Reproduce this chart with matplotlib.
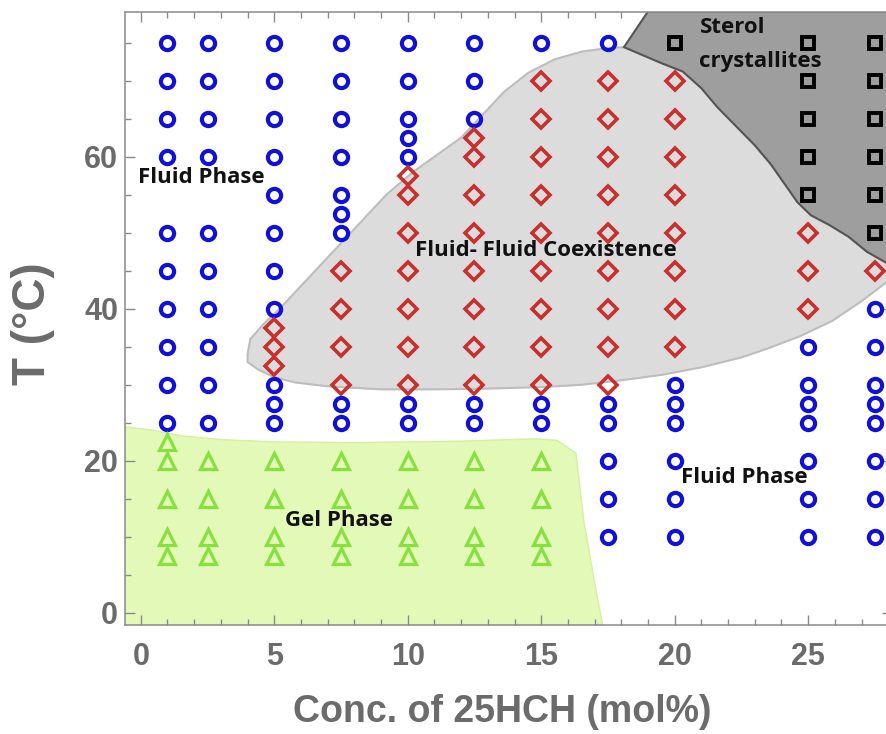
import numpy as np
import matplotlib
matplotlib.use('Agg')
import matplotlib.pyplot as plt
from matplotlib.ticker import MultipleLocator

# concentration columns (mol% 25HCH)
conc = [1, 2.5, 5, 7.5, 10, 12.5, 15, 17.5, 20, 25, 27.5]

# temperatures (C) per column for each phase
fluid_T = [
    [75, 70, 65, 60, 50, 45, 40, 35, 30, 25],
    [75, 70, 65, 60, 50, 45, 40, 35, 30, 25],
    [75, 70, 65, 60, 55, 50, 45, 40, 30, 27.5, 25],
    [75, 70, 65, 60, 55, 52.5, 50, 27.5, 25],
    [75, 70, 65, 62.5, 60, 27.5, 25],
    [75, 70, 65, 27.5, 25],
    [75, 27.5, 25],
    [75, 27.5, 25, 20, 15, 10],
    [30, 27.5, 25, 20, 15, 10],
    [35, 30, 27.5, 25, 20, 15, 10],
    [40, 35, 30, 27.5, 25, 20, 15, 10],
]
coex_T = [
    [],
    [],
    [37.5, 35, 32.5],
    [45, 40, 35, 30],
    [57.5, 55, 50, 45, 40, 35, 30],
    [62.5, 60, 55, 50, 45, 40, 35, 30],
    [70, 65, 60, 55, 50, 45, 40, 35, 30],
    [70, 65, 60, 55, 50, 45, 40, 35, 30],
    [70, 65, 60, 55, 50, 45, 40, 35],
    [50, 45, 40],
    [45],
]
gel_T = [
    [22.5, 20, 15, 10, 7.5],
    [20, 15, 10, 7.5],
    [20, 15, 10, 7.5],
    [20, 15, 10, 7.5],
    [20, 15, 10, 7.5],
    [20, 15, 10, 7.5],
    [20, 15, 10, 7.5],
    [], [], [], [],
]
sterol_T = [
    [], [], [], [], [], [], [], [],
    [75],
    [75, 70, 65, 60, 55],
    [75, 70, 65, 60, 55, 50],
]

# phase region outlines
gel_x = [-0.6, 0.5, 1.5, 3.0, 5.0, 8.0, 12.0, 14.8, 15.6, 16.3, 16.6, 17.0, 17.3, -0.6]
gel_y = [24.5, 24.0, 23.3, 22.8, 22.5, 22.4, 22.6, 22.9, 22.7, 21.0, 12.0, 4.0, -1.6, -1.6]

coex_x = [4.0, 4.1, 4.6, 5.2, 6.0, 6.8, 7.6, 8.4, 9.2, 10.2, 11.2, 12.0, 12.8, 13.6,
          14.5, 15.5, 16.5, 17.5, 18.1,
          19.5, 20.3, 21.0, 21.6, 22.3, 23.0, 23.6, 24.1, 24.6, 25.1, 25.8, 26.5, 27.2, 28.2,
          28.2, 27.9, 27.0, 25.9, 24.7, 23.5, 22.5, 21.0, 19.5, 18.0, 16.5, 15.0, 13.0,
          11.0, 9.0, 7.0, 5.8, 5.0, 4.4, 4.0]
coex_y = [34.0, 36.0, 38.0, 40.0, 43.0, 46.0, 49.0, 52.0, 55.0, 58.0, 60.5, 62.5, 65.5, 68.5,
          71.0, 72.8, 73.8, 74.3, 74.4,
          72.3, 71.2, 69.0, 66.5, 64.0, 61.5, 59.0, 56.5, 54.0, 52.3, 51.0, 49.5, 47.5, 45.5,
          43.8, 43.4, 41.0, 38.4, 36.4, 34.8, 33.6, 32.3, 31.3, 30.6, 30.0, 29.7, 29.5,
          29.4, 29.4, 29.8, 30.3, 31.0, 32.0, 33.0]

sterol_x = [19.0, 18.1, 19.5, 20.3, 21.0, 21.6, 22.3, 23.0, 23.6, 24.1, 24.6, 25.1, 25.8,
            26.5, 27.2, 28.2, 28.2]
sterol_y = [79.1, 74.4, 72.3, 71.2, 69.0, 66.5, 64.0, 61.5, 59.0, 56.5, 54.0, 52.3, 51.0,
            49.5, 47.5, 45.5, 79.1]

fig = plt.figure(figsize=(8.86, 7.34), dpi=100)
ax = fig.add_axes([0.1411, 0.1485, 0.8657, 0.8345])

ax.fill(gel_x, gel_y, facecolor='#e3f9b7', edgecolor='#d4f0a0', lw=1, zorder=1)
ax.fill(coex_x, coex_y, facecolor='#dcdcdc', edgecolor='#bdbdbd', lw=1.5, zorder=1)
ax.fill(sterol_x, sterol_y, facecolor='#9e9e9e', edgecolor='#555555', lw=1.5, zorder=2)

def pts(Ts):
    xs, ys = [], []
    for c, col in zip(conc, Ts):
        for t in col:
            xs.append(c)
            ys.append(t)
    return xs, ys

x, y = pts(fluid_T)
ax.plot(x, y, 'o', ms=9.5, mfc='none', mec='#1010d8', mew=3.0, zorder=3, clip_on=False)
x, y = pts(coex_T)
ax.plot(x, y, 'D', ms=9.5, mfc='none', mec='#c8302e', mew=2.6, zorder=3, clip_on=False)
x, y = pts(gel_T)
ax.plot(x, y, '^', ms=11, mfc='none', mec='#86e03e', mew=2.3, zorder=3)
x, y = pts(sterol_T)
ax.plot(x, y, 's', ms=8, mfc='none', mec='black', mew=2.8, zorder=3, clip_on=False)

tfont = dict(family=['Open Sans', 'DejaVu Sans'], fontweight='bold', fontsize=16,
             color='#111111', va='center', ha='left', zorder=5)
ax.text(-0.1, 57.2, 'Fluid Phase', **tfont)
ax.text(10.28, 47.7, 'Fluid- Fluid Coexistence', **tfont)
ax.text(20.95, 77.05, 'Sterol', **tfont)
ax.text(20.9, 72.45, 'crystallites', **tfont)
ax.text(20.23, 17.75, 'Fluid Phase', **tfont)
ax.text(5.41, 12.2, 'Gel Phase', **tfont)

ax.set_xlim(-0.59, 28.14)
ax.set_ylim(-1.58, 78.96)
ax.xaxis.set_major_locator(MultipleLocator(5))
ax.xaxis.set_minor_locator(MultipleLocator(1))
ax.yaxis.set_major_locator(MultipleLocator(20))
ax.yaxis.set_minor_locator(MultipleLocator(5))

gray = '#6b6b6b'
for s in ax.spines.values():
    s.set_color('#8a8a8a')
    s.set_linewidth(1.1)
ax.tick_params(which='both', direction='in', top=True, right=True, color='#8a8a8a', width=1)
ax.tick_params(which='major', length=7)
ax.tick_params(which='minor', length=4)
ax.tick_params(axis='x', pad=12)
ax.tick_params(axis='y', pad=5)
for lab in ax.get_xticklabels() + ax.get_yticklabels():
    lab.set_family('Liberation Sans')
    lab.set_fontweight('bold')
    lab.set_fontsize(22)
    lab.set_color(gray)

ax.set_xlabel('Conc. of 25HCH (mol%)', family='Liberation Sans', fontweight='bold',
              fontsize=27, color=gray)
ax.set_ylabel('T (°C)', family='Liberation Sans', fontweight='bold', fontsize=33, color=gray)
ax.xaxis.set_label_coords(0.4915, -0.142)
ax.xaxis.label.set_va('center')
ax.yaxis.set_label_coords(-0.12, 0.4927)
ax.yaxis.label.set_va('center')

fig.savefig('out.png', dpi=100)
